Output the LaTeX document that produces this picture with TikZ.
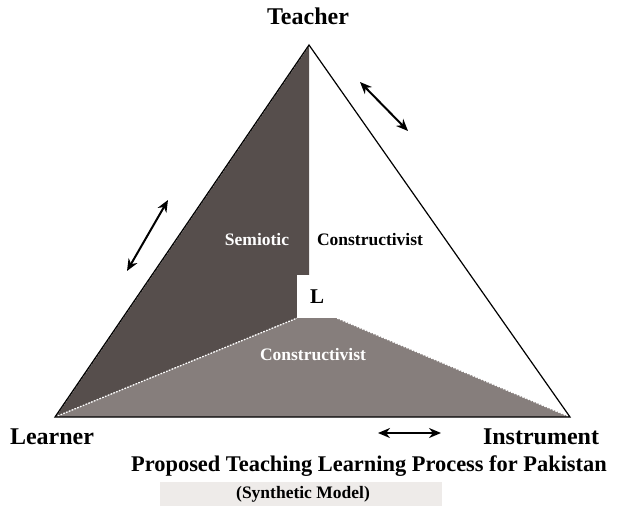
\documentclass[tikz,border=0pt]{standalone}
\usepackage{fontspec}
\setmainfont{Liberation Serif}
\usetikzlibrary{arrows.meta, positioning}
\definecolor{semigray}{RGB}{86,78,76}
\definecolor{constgray}{RGB}{134,126,124}
\definecolor{notegray}{RGB}{238,235,233}
\tikzset{
    corner/.style={font=\bfseries\fontsize{24}{28}\selectfont, inner sep=0pt},
    region/.style={font=\bfseries\fontsize{17.5}{20}\selectfont, inner sep=0pt},
    stitch/.style={white, line width=1.3pt, dash pattern=on 1.6pt off 1.4pt},
    twoway/.style={{Stealth[length=12pt,width=10pt]}-{Stealth[length=12pt,width=10pt]}, line width=2pt},
}

\begin{document}
\begin{tikzpicture}[x=1pt, y=-1pt]
    \useasboundingbox (0,0) rectangle (617,516);

    \coordinate (t) at (309,45);
    \coordinate (lrn) at (55,417);
    \coordinate (ins) at (570,417);

    \node[fill=white, minimum width=40pt, minimum height=43pt, inner sep=0pt,
          font=\bfseries\fontsize{21}{24}\selectfont] (lbox) at (317,296.5) {L};

    % shaded parts
    \fill[semigray] (t) -- (lrn) -- (lbox.south west) -- (lbox.north west)
        -- (lbox.north west -| t) -- cycle;
    \fill[constgray] (lrn) -- (lbox.south west) -- (lbox.south east) -- (ins) -- cycle;

    \draw[stitch] (lrn) -- (lbox.south west);
    \draw[stitch] (lbox.south east) -- (ins);
    \draw[stitch, shift={(2.5,0)}] (lrn) -- (t);

    \draw[line width=1.2pt, line join=miter] (t) -- (lrn) -- (ins) -- cycle;

    \node[region, white] (semi) at (257,240) {Semiotic};
    \node[region] (cright) at (370,240) {Constructivist};
    \node[region, white] (cbottom) at (313,355) {Constructivist};

    % corners
    \node[corner] (teacher) at (308,16) {Teacher};
    \node[corner] (learner) at (52,437) {Learner};
    \node[corner] (instr) at (541,437) {Instrument};

    % arrows
    \coordinate (a1s) at (360,82);
    \coordinate (a1e) at (408,131);
    \coordinate (a2s) at (127,271);
    \coordinate (a2e) at (168,200);
    \coordinate (a3s) at (378,433);
    \coordinate (a3e) at (441,433);
    \draw[twoway] (a1s) -- (a1e);
    \draw[twoway] (a2s) -- (a2e);
    \draw[twoway] (a3s) -- (a3e);

    % caption
    \node[corner, font=\bfseries\fontsize{22.4}{26}\selectfont] (title) at (369,466)
        {Proposed Teaching Learning Process for Pakistan};
    \fill[notegray] (160,482) rectangle (442,506);
    \node[font=\bfseries\fontsize{17.5}{20}\selectfont, inner sep=0pt] (sub) at (303,494)
        {(Synthetic Model)};
\end{tikzpicture}
\end{document}
